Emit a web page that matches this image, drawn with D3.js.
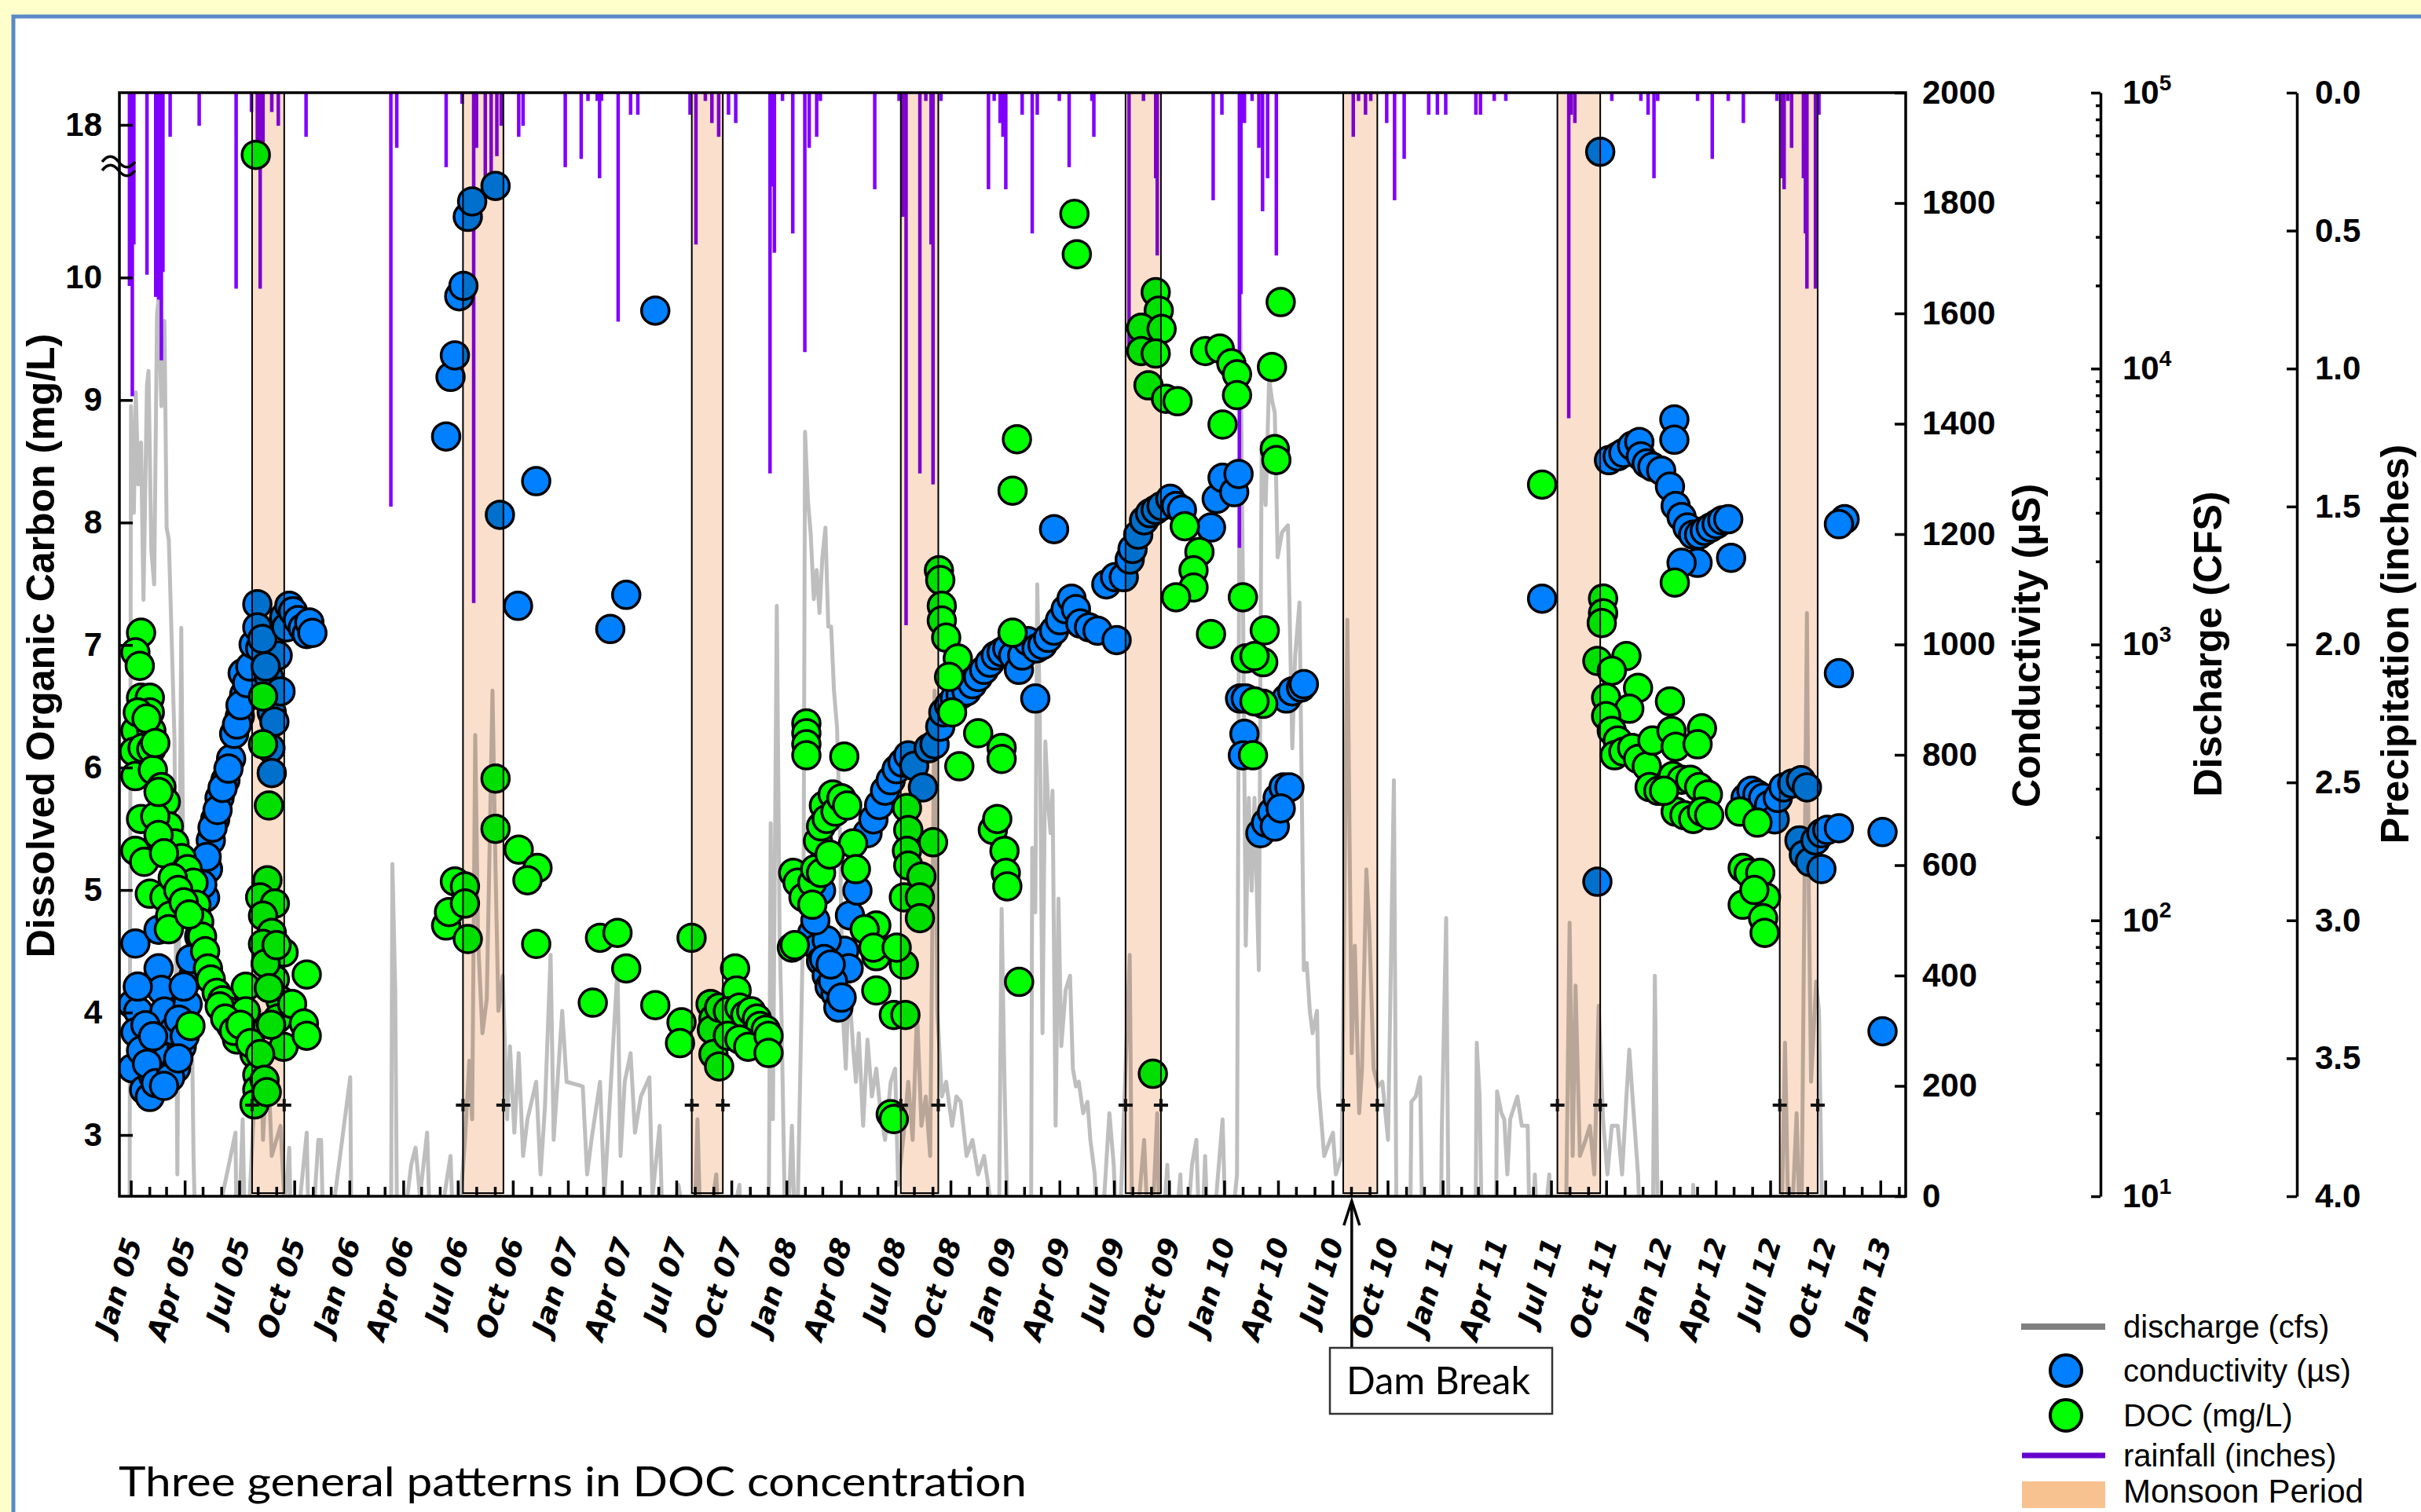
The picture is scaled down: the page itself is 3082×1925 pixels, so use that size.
<!DOCTYPE html>
<meta charset="utf-8">
<script src="https://d3js.org/d3.v7.min.js"></script>
<style>
body { margin: 0; background: #FFFFCC; }
svg { display: block; }
.axis text { font-family: "Liberation Sans", Arial, sans-serif; font-weight: bold; font-size: 42px; fill: #000; }
.axis line, .axis path { stroke: #000; stroke-width: 3.5; }
.title { font-family: "Liberation Sans", Arial, sans-serif; font-weight: bold; font-size: 50px; }
.xlab { font-family: "DejaVu Sans", Verdana, sans-serif; font-weight: bold; font-style: italic; font-size: 36px; }
.leg { font-family: "Liberation Sans", Arial, sans-serif; font-size: 40px; }
</style>
<body></body>
<script>

// decimal year, DOC (mg/L)
var docData = [
  [2005.045,7.10],[2005.019,6.94],[2005.039,6.83],[2005.045,6.57],[2005.085,6.57],[2005.085,6.45],[2005.019,6.30],[2005.092,6.30],
  [2005.012,6.13],[2005.052,6.16],[2005.092,6.15],[2005.019,5.93],[2005.099,5.98],[2005.138,5.84],[2005.158,5.72],[2005.045,5.58],
  [2005.172,5.52],[2005.019,5.32],[2005.059,5.23],[2005.198,5.38],[2005.231,5.26],[2005.258,5.17],[2005.085,4.97],[2005.152,4.94],
  [2005.178,4.79],[2005.172,4.68],[2005.285,5.06],[2005.298,4.88],[2005.311,4.74],[2005.324,4.62],[2005.338,4.50],[2005.351,4.36],
  [2005.364,4.27],[2005.271,3.89],[2005.391,4.16],[2005.417,4.10],[2005.444,4.01],[2005.457,3.89],[2005.484,3.78],[2005.524,4.21],
  [2005.524,4.01],[2005.530,3.84],[2005.564,3.66],[2005.577,3.49],[2005.577,3.37],[2005.564,3.25],
  [2005.110,5.60],[2005.125,5.45],[2005.150,5.30],[2005.190,5.10],[2005.215,5.00],[2005.240,4.90],[2005.265,4.80],[2005.030,6.45],
  [2005.070,6.40],[2005.110,6.20],[2005.125,5.80],[2005.405,4.05],[2005.430,3.95],[2005.470,3.85],[2005.500,3.90],[2005.545,3.75],
  [2005.570,17.35],[2005.603,6.58],[2005.603,6.19],[2005.630,5.69],[2005.623,5.08],[2005.590,4.94],[2005.657,4.89],[2005.603,4.79],
  [2005.643,4.65],[2005.603,4.56],[2005.697,4.49],[2005.657,4.27],[2005.683,4.10],[2005.670,3.95],[2005.697,3.72],[2005.590,3.66],
  [2005.615,4.40],[2005.630,4.20],[2005.640,3.90],[2005.665,4.55],[2005.610,3.45],[2005.620,3.35],
  [2005.803,4.31],[2005.736,4.07],[2005.790,3.91],[2005.803,3.81],
  [2006.441,4.71],[2006.454,4.82],[2006.481,5.07],[2006.527,5.03],[2006.527,4.89],[2006.540,4.60],[2006.667,5.91],[2006.667,5.50],
  [2006.773,5.33],[2006.859,5.18],[2006.813,5.08],[2006.853,4.56],
  [2007.145,4.61],[2007.225,4.65],[2007.265,4.36],[2007.112,4.08],[2007.398,4.06],[2007.518,3.92],[2007.511,3.75],[2007.564,4.61],
  [2007.651,4.07],[2007.664,3.95],[2007.657,3.86],[2007.664,3.66],[2007.690,3.56],[2007.690,4.04],[2007.763,4.36],[2007.770,4.18],
  [2007.730,4.01],[2007.783,4.04],[2007.810,3.98],[2007.837,4.01],[2007.863,3.95],[2007.877,3.89],[2007.903,3.86],[2007.730,3.81],
  [2007.783,3.78],[2007.823,3.72],[2007.916,3.81],[2007.916,3.67],
  [2008.089,6.36],[2008.089,6.28],[2008.089,6.19],[2008.089,6.10],[2008.262,6.09],[2008.023,4.53],[2008.029,5.14],[2008.049,5.06],
  [2008.076,4.94],[2008.116,5.06],[2008.129,5.17],[2008.156,5.14],[2008.116,4.88],[2008.142,5.40],[2008.156,5.52],[2008.169,5.69],
  [2008.182,5.58],[2008.209,5.78],[2008.222,5.64],[2008.249,5.75],[2008.275,5.69],[2008.302,5.38],[2008.315,5.17],[2008.036,4.55],
  [2008.195,5.29],[2008.408,4.71],[2008.408,4.46],[2008.408,4.18],[2008.355,4.68],[2008.488,3.98],[2008.395,4.53],[2008.474,3.17],
  [2008.488,3.13],
  [2008.548,5.67],[2008.554,5.49],[2008.548,5.32],[2008.554,5.20],[2008.534,4.94],[2008.614,5.11],[2008.607,4.94],[2008.607,4.77],
  [2008.534,4.39],[2008.501,4.53],[2008.541,3.98],[2008.667,5.39],
  [2008.694,7.61],[2008.700,7.53],[2008.707,7.32],[2008.707,7.20],[2008.727,7.06],[2008.780,6.89],[2008.740,6.74],[2008.754,6.45],
  [2008.873,6.28],[2008.980,6.16],[2008.980,6.07],[2008.787,6.01],[2008.940,5.49],[2008.960,5.58],[2008.993,5.32],[2008.999,5.14],
  [2009.006,5.03],[2009.050,8.68],[2009.030,8.26],[2009.060,4.25],[2009.030,7.10],
  [2009.313,10.52],[2009.324,10.19],[2009.685,9.88],[2009.699,9.73],[2009.619,9.59],[2009.712,9.58],[2009.619,9.40],[2009.685,9.38],
  [2009.652,9.12],[2009.732,9.01],[2009.785,8.99],[2009.672,3.50],[2009.911,9.40],[2009.978,9.42],[2010.031,9.30],[2010.057,9.21],
  [2010.057,9.04],[2009.991,8.80],[2010.257,9.80],[2010.217,9.27],[2010.230,8.60],[2010.237,8.51],[2009.818,7.97],[2009.885,7.76],
  [2009.858,7.61],[2009.858,7.47],[2009.778,7.39],[2010.084,7.39],[2009.938,7.09],[2010.184,7.12],[2010.097,6.89],[2010.177,6.86],
  [2010.137,6.91],[2010.177,6.52],[2010.137,6.54],[2010.130,6.10],
  [2011.453,8.31],[2011.732,7.38],[2011.732,7.26],[2011.726,7.18],[2011.706,6.87],[2011.839,6.91],[2011.772,6.79],[2011.892,6.65],
  [2011.746,6.57],[2011.852,6.48],[2011.746,6.42],[2011.772,6.30],[2011.799,6.22],[2011.785,6.10],[2011.825,6.13],[2011.865,6.16],
  [2011.892,6.07],[2011.932,6.01],[2011.958,6.22],[2011.945,5.84],[2011.985,5.81],[2012.038,6.54],[2012.045,6.30],[2012.064,6.17],
  [2012.184,6.32],[2012.164,6.19],[2012.051,5.93],[2012.091,5.90],[2012.131,5.90],[2012.171,5.84],[2012.211,5.78],[2012.064,5.64],
  [2012.104,5.61],[2012.144,5.58],[2012.184,5.64],[2012.217,5.61],[2012.011,5.81],[2012.060,7.51],
  [2012.357,5.64],[2012.437,5.55],[2012.370,5.18],[2012.397,5.14],[2012.450,5.14],[2012.476,4.94],[2012.370,4.88],[2012.463,4.77],
  [2012.470,4.65],[2012.423,5.00]
];

// decimal year, conductivity (uS)
var condData = [
  [2005.019,458],[2005.005,348],[2005.032,335],[2005.019,297],[2005.005,232],[2005.045,264],[2005.059,193],[2005.085,180],
  [2005.099,219],[2005.125,413],[2005.138,374],[2005.152,335],[2005.138,284],[2005.165,251],[2005.205,232],[2005.231,271],
  [2005.125,483],[2005.258,348],[2005.285,400],[2005.311,471],[2005.338,541],[2005.351,593],[2005.364,645],[2005.384,683],
  [2005.404,722],[2005.431,754],[2005.457,793],[2005.471,838],[2005.497,870],[2005.517,909],[2005.510,948],
  [2005.072,240],[2005.112,205],[2005.178,215],[2005.192,300],[2005.218,320],[2005.245,290],[2005.030,380],[2005.065,310],
  [2005.100,290],[2005.150,200],[2005.215,250],[2005.240,380],[2005.272,430],[2005.298,510],[2005.325,565],[2005.345,615],
  [2005.372,668],[2005.395,700],[2005.418,740],[2005.445,775],[2005.484,855],[2005.500,890],[2005.530,930],[2005.545,960],
  [2005.560,1000],
  [2005.577,1073],[2005.577,1031],[2005.590,993],[2005.630,941],[2005.643,877],[2005.637,812],[2005.643,767],[2005.670,980],
  [2005.600,1010],[2005.615,960],[2005.655,860],[2005.683,915],
  [2005.700,1050],[2005.710,1031],[2005.723,1070],[2005.740,1060],[2005.763,1044],[2005.785,1030],[2005.803,1019],[2005.815,1040],
  [2005.829,1021],
  [2006.441,1377],[2006.461,1485],[2006.481,1524],[2006.501,1631],[2006.520,1650],[2006.540,1775],[2006.560,1803],[2006.667,1831],
  [2006.687,1235],[2006.770,1070],[2006.853,1296],
  [2007.192,1028],[2007.265,1090],[2007.398,1605],
  [2008.116,477],[2008.142,451],[2008.156,426],[2008.182,400],[2008.195,380],[2008.222,367],[2008.235,342],[2008.262,445],
  [2008.282,413],[2008.182,464],[2008.156,554],[2008.288,509],[2008.322,554],[2008.130,500],[2008.170,430],[2008.210,390],
  [2008.250,360],[2008.200,420],
  [2008.368,658],[2008.395,683],[2008.421,709],[2008.448,735],[2008.474,754],[2008.501,774],[2008.528,786],[2008.554,799],
  [2008.581,780],[2008.621,741],[2008.647,812],[2008.674,819],[2008.700,851],[2008.714,877],[2008.740,890],[2008.767,903],
  [2008.793,909],[2008.820,915],[2008.847,928],[2008.873,941],[2008.900,954],[2008.926,967],[2008.953,980],[2008.980,986],
  [2009.006,993],[2009.033,980],[2009.059,954],
  [2009.074,980],[2009.100,1006],[2009.134,902],[2009.140,993],[2009.167,999],[2009.193,1012],[2009.220,1025],[2009.247,1044],
  [2009.273,1064],[2009.300,1083],[2009.320,1064],[2009.340,1038],[2009.380,1031],[2009.419,1025],[2009.506,1008],[2009.220,1209],
  [2009.459,1109],[2009.499,1122],[2009.539,1122],[2009.566,1154],[2009.579,1173],[2009.605,1199],[2009.632,1225],[2009.659,1238],
  [2009.685,1244],[2009.712,1251],[2009.752,1264],[2009.778,1251],[2009.805,1244],[2009.938,1212],
  [2009.964,1264],[2009.991,1302],[2010.044,1276],[2010.064,1309],[2010.071,902],[2010.097,902],[2010.091,838],[2010.084,799],
  [2010.283,902],[2010.310,915],[2010.350,922],[2010.363,928],[2010.164,658],[2010.190,677],[2010.217,696],[2010.243,722],
  [2010.270,741],[2010.297,741],[2010.230,670],[2010.257,703],
  [2011.453,1083],[2011.719,1893],[2011.706,570],
  [2011.759,1334],[2011.799,1341],[2011.825,1347],[2011.865,1360],[2011.898,1367],[2011.905,1341],[2011.932,1328],[2011.958,1322],
  [2011.998,1315],[2012.058,1408],[2012.058,1371],[2012.038,1286],[2012.064,1251],[2012.091,1231],[2012.118,1212],[2012.144,1199],
  [2012.171,1199],[2012.197,1206],[2012.224,1212],[2012.251,1218],[2012.277,1225],[2012.304,1227],[2012.317,1157],[2012.164,1148],
  [2012.091,1148],
  [2012.383,722],[2012.410,735],[2012.437,728],[2012.463,722],[2012.490,709],[2012.516,683],[2012.530,722],[2012.556,741],
  [2012.596,748],[2012.636,754],[2012.663,741],[2012.629,645],[2012.649,619],[2012.676,606],[2012.702,645],[2012.729,658],
  [2012.756,664],[2012.729,593],[2012.809,667],[2012.835,1227],[2012.809,1218],[2012.809,948],[2013.008,660],[2013.008,299]
];

// decimal year, discharge (cfs); values under 10 fall below the axis
var dischargeData = [
  [2004.950,5],[2004.992,5],[2004.999,7300],[2005.012,3000],[2005.021,8200],[2005.032,3800],[2005.045,5400],[2005.056,1450],
  [2005.072,8700],[2005.079,9800],[2005.092,2200],[2005.105,1650],[2005.118,15800],[2005.125,17700],[2005.138,7300],[2005.152,14900],
  [2005.162,2650],[2005.172,2400],[2005.185,1050],[2005.198,450],[2005.211,12],[2005.221,153],[2005.229,1150],[2005.238,153],
  [2005.251,195],[2005.258,47],[2005.271,114],[2005.285,14],[2005.298,5],[2005.338,5],[2005.477,17],[2005.484,5],
  [2005.510,19],[2005.524,5],[2005.564,23],[2005.590,47],[2005.603,16],[2005.623,35],[2005.643,14],[2005.683,18],
  [2005.703,9],[2005.723,15],[2005.736,5],[2005.803,17],[2005.816,5],[2005.856,16],[2005.869,16],[2005.883,5],
  [2006.002,27],[2006.009,5],[2006.188,5],[2006.195,160],[2006.208,56],[2006.218,5],[2006.281,13],[2006.301,15],
  [2006.321,10],[2006.354,17],[2006.374,5],[2006.461,14],[2006.481,5],[2006.527,16],[2006.547,31],[2006.560,19],
  [2006.574,470],[2006.587,85],[2006.607,39],[2006.627,52],[2006.653,680],[2006.667,153],[2006.680,47],[2006.700,63],
  [2006.720,19],[2006.733,35],[2006.753,17],[2006.773,33],[2006.793,14],[2006.813,19],[2006.853,26],[2006.873,12],
  [2006.893,21],[2006.919,75],[2006.933,16],[2006.972,47],[2006.992,26],
  [2007.066,25],[2007.086,12],[2007.106,16],[2007.145,26],[2007.165,10],[2007.225,67],[2007.239,14],[2007.258,26],
  [2007.285,33],[2007.305,17],[2007.332,23],[2007.371,27],[2007.385,10],[2007.418,18],[2007.438,5],[2007.504,11],
  [2007.571,5],[2007.591,19],[2007.611,5],[2007.677,12],[2007.697,5],[2007.783,11],[2007.797,5],[2007.916,5],
  [2007.926,225],[2007.936,19],[2007.954,1380],[2007.967,85],[2007.976,43],[2007.996,5],[2008.023,18],[2008.043,5],
  [2008.076,114],[2008.083,5900],[2008.096,3350],[2008.109,2500],[2008.123,1460],[2008.136,1860],[2008.149,1300],[2008.162,2070],
  [2008.176,2650],[2008.189,1160],[2008.202,1160],[2008.215,680],[2008.229,500],[2008.242,207],[2008.255,47],[2008.269,29],
  [2008.282,60],[2008.302,35],[2008.315,26],[2008.328,39],[2008.348,18],[2008.368,37],[2008.388,23],[2008.408,29],
  [2008.428,20],[2008.448,16],[2008.474,26],[2008.494,29],[2008.508,11],[2008.534,17],[2008.554,26],[2008.574,16],
  [2008.594,47],[2008.614,18],[2008.634,23],[2008.654,14],[2008.674,680],[2008.687,47],[2008.707,23],[2008.727,26],
  [2008.754,18],[2008.774,23],[2008.793,22],[2008.820,14],[2008.847,16],[2008.873,12],[2008.900,14],[2008.926,10],
  [2008.966,5],[2008.980,110],[2008.993,26],[2009.013,5],
  [2009.114,5],[2009.120,183],[2009.134,107],[2009.143,1650],[2009.154,600],[2009.167,39],[2009.180,445],[2009.193,262],
  [2009.204,207],[2009.213,295],[2009.227,18],[2009.240,120],[2009.253,35],[2009.273,56],[2009.293,63],[2009.306,29],
  [2009.320,25],[2009.333,26],[2009.353,20],[2009.373,22],[2009.386,16],[2009.406,12],[2009.426,5],[2009.473,20],
  [2009.493,13],[2009.512,5],[2009.566,75],[2009.579,5],[2009.632,16],[2009.659,5],[2009.692,20],[2009.705,5],
  [2009.738,13],[2009.758,5],[2009.798,12],[2009.811,5],[2009.851,13],[2009.871,16],[2009.891,5],[2009.911,14],
  [2009.931,5],[2009.991,19],[2010.011,5],[2010.057,12],[2010.071,18600],[2010.084,1650],[2010.097,81],[2010.111,278],
  [2010.124,128],[2010.137,278],[2010.157,66],[2010.170,5400],[2010.188,3200],[2010.204,9200],[2010.217,7700],[2010.230,6900],
  [2010.243,2070],[2010.263,2550],[2010.290,2700],[2010.310,420],[2010.323,910],[2010.343,1420],[2010.363,66],[2010.376,70],
  [2010.390,47],[2010.403,39],[2010.423,47],[2010.430,25],[2010.456,14],[2010.483,16],[2010.496,17],[2010.509,12],
  [2010.536,14],[2010.562,1230],[2010.582,33],[2010.596,81],[2010.616,20],[2010.629,29],[2010.649,153],[2010.662,96],
  [2010.682,29],[2010.702,25],[2010.722,26],[2010.748,16],[2010.775,322],[2010.788,5],[2010.848,5],[2010.855,22],
  [2010.875,23],[2010.895,27],[2010.908,5],[2010.988,5],[2010.994,17],[2011.014,102],[2011.027,5],
  [2011.147,5],[2011.154,36],[2011.167,23],[2011.181,5],[2011.240,5],[2011.247,24],[2011.267,20],[2011.280,19],
  [2011.294,12],[2011.307,19],[2011.340,23],[2011.360,18],[2011.387,18],[2011.400,5],[2011.420,12],[2011.440,5],
  [2011.486,12],[2011.500,5],[2011.559,5],[2011.579,98],[2011.593,14],[2011.606,58],[2011.626,14],[2011.652,16],
  [2011.672,18],[2011.692,12],[2011.712,49],[2011.732,19],[2011.752,12],[2011.772,18],[2011.799,18],[2011.819,12],
  [2011.839,23],[2011.852,34],[2011.872,20],[2011.892,12],[2011.912,5],[2011.958,5],[2011.969,63],[2011.985,5],
  [2012.138,5],[2012.144,11],[2012.157,5],[2012.543,5],[2012.563,36],[2012.583,5],[2012.616,20],[2012.636,5],
  [2012.663,1300],[2012.672,115],[2012.682,26],[2012.705,60],[2012.718,47],[2012.736,5],[2013.100,5]
];

// decimal year, rainfall (inches)
var rainData = [
  [2004.992,0.70],[2004.999,0.40],[2005.005,1.10],[2005.012,0.55],[2005.072,0.66],[2005.112,0.74],[2005.125,0.75],[2005.138,0.97],
  [2005.145,0.65],[2005.178,0.16],[2005.311,0.12],[2005.480,0.71],[2005.550,0.07],[2005.577,0.20],[2005.590,0.71],[2005.603,0.24],
  [2005.643,0.07],[2005.673,0.12],[2005.800,0.16],[2006.188,1.50],[2006.215,0.20],[2006.441,0.27],[2006.514,0.04],[2006.567,1.85],
  [2006.580,0.20],[2006.620,0.31],[2006.647,0.35],[2006.673,0.23],[2006.693,0.12],[2006.773,0.16],[2006.793,0.12],[2006.986,0.27],
  [2007.059,0.24],[2007.090,0.03],[2007.132,0.03],[2007.143,0.31],[2007.152,0.03],[2007.228,0.83],[2007.285,0.08],[2007.318,0.08],
  [2007.557,0.08],[2007.584,0.55],[2007.627,0.03],[2007.657,0.11],[2007.688,0.16],[2007.733,0.08],[2007.766,0.11],[2007.923,1.38],
  [2007.932,0.34],[2007.943,0.58],[2007.980,0.03],[2008.027,0.51],[2008.082,0.94],[2008.102,0.20],[2008.136,0.16],[2008.153,0.03],
  [2008.401,0.35],[2008.512,0.03],[2008.530,0.45],[2008.544,1.93],[2008.607,1.38],[2008.634,0.03],[2008.658,0.55],[2008.667,1.42],
  [2008.703,0.03],[2008.920,0.35],[2008.946,0.03],[2008.973,0.11],[2008.986,0.16],[2008.999,0.35],
  [2009.074,0.08],[2009.120,0.51],[2009.143,0.08],[2009.244,0.03],[2009.289,0.27],[2009.393,0.03],[2009.402,0.16],[2009.563,0.94],
  [2009.629,0.03],[2009.685,0.31],[2009.692,0.59],[2009.948,0.39],[2009.988,0.08],[2010.068,1.65],[2010.075,0.73],[2010.091,0.11],
  [2010.126,0.03],[2010.157,0.20],[2010.174,0.43],[2010.197,0.31],[2010.237,0.59],[2010.589,0.16],[2010.613,0.03],[2010.645,0.08],
  [2010.669,0.03],[2010.742,0.11],[2010.778,0.39],[2010.822,0.24],[2010.934,0.08],[2010.974,0.08],[2011.012,0.08],
  [2011.150,0.08],[2011.171,0.08],[2011.234,0.03],[2011.287,0.03],[2011.575,1.18],[2011.586,0.08],[2011.603,0.11],[2011.772,0.03],
  [2011.905,0.03],[2011.938,0.08],[2011.965,0.31],[2011.982,0.03],[2012.164,0.03],[2012.231,0.24],[2012.304,0.03],[2012.373,0.11],
  [2012.526,0.03],[2012.550,0.31],[2012.559,0.35],[2012.576,0.03],[2012.593,0.20],[2012.647,0.31],[2012.656,0.51],[2012.663,0.71],
  [2012.702,0.71],[2012.718,0.08]
];

// monsoon periods, start and end as decimal years
var monsoonPeriods = [
  [2005.553,2005.700],[2006.518,2006.703],[2007.565,2007.707],[2008.520,2008.691],
  [2009.547,2009.709],[2010.543,2010.699],[2011.523,2011.719],[2012.539,2012.712]
];
var damBreak = 2010.582;

var docTicks = [3,4,5,6,7,8,9,10,18];
var condTicks = [0,200,400,600,800,1000,1200,1400,1600,1800,2000];
var dischargeTicks = [10,100,1000,10000,100000];
var rainTicks = [0,0.5,1,1.5,2,2.5,3,3.5,4];

var width = 3082, height = 1925;
var L = 152, R = 2426, T = 118, B = 1523;

function toDate(y) {
  var yr = Math.floor(y);
  var a = Date.UTC(yr, 0, 1), b = Date.UTC(yr + 1, 0, 1);
  return new Date(a + (y - yr) * (b - a));
}

var svg = d3.select("body").append("svg")
  .attr("width", width)
  .attr("height", height);

svg.append("rect").attr("width", width).attr("height", height).attr("fill", "#FFFFCC");
svg.append("rect")
  .attr("x", 17).attr("y", 21).attr("width", 3100).attr("height", 2000)
  .attr("fill", "#fff").attr("stroke", "#5A89C6").attr("stroke-width", 5);

var x = d3.scaleUtc().domain([toDate(2004.946), toDate(2013.114)]).range([L, R]);
var yDoc = d3.scaleLinear().domain([2.5, 10.9, 17.2, 18]).range([B, 213, 206, 159]);
var yCond = d3.scaleLinear().domain([0, 2000]).range([B, T]);
var yQ = d3.scaleLog().domain([10, 100000]).range([B, T]);
var yRain = d3.scaleLinear().domain([0, 4]).range([T, B]);

svg.append("clipPath").attr("id", "plotclip")
  .append("rect").attr("x", L).attr("y", T).attr("width", R - L).attr("height", B - T);

var plot = svg.append("g").attr("clip-path", "url(#plotclip)");

// discharge
var qLine = d3.line()
  .x(function(d) { return x(toDate(d[0])); })
  .y(function(d) { return yQ(d[1]); });

plot.append("path")
  .datum(dischargeData)
  .attr("d", qLine)
  .attr("fill", "none")
  .attr("stroke", "#BEBEBE")
  .attr("stroke-width", 5)
  .attr("stroke-linejoin", "round");

// rainfall bars hanging from the top
plot.selectAll(".rain")
  .data(rainData).enter().append("line")
  .attr("class", "rain")
  .attr("x1", function(d) { return x(toDate(d[0])); })
  .attr("x2", function(d) { return x(toDate(d[0])); })
  .attr("y1", yRain(0))
  .attr("y2", function(d) { return yRain(d[1]); })
  .attr("stroke", "#8000FF")
  .attr("stroke-width", 4.5);

// conductivity and DOC points
plot.selectAll(".cond")
  .data(condData).enter().append("circle")
  .attr("class", "cond")
  .attr("cx", function(d) { return x(toDate(d[0])); })
  .attr("cy", function(d) { return yCond(d[1]); })
  .attr("r", 17.5)
  .attr("fill", "#0080FF")
  .attr("stroke", "#000")
  .attr("stroke-width", 3.5);

plot.selectAll(".doc")
  .data(docData).enter().append("circle")
  .attr("class", "doc")
  .attr("cx", function(d) { return x(toDate(d[0])); })
  .attr("cy", function(d) { return yDoc(d[1]); })
  .attr("r", 17.5)
  .attr("fill", "#00FF00")
  .attr("stroke", "#000")
  .attr("stroke-width", 3.5);

// monsoon bands over everything
plot.selectAll(".band")
  .data(monsoonPeriods).enter().append("rect")
  .attr("class", "band")
  .attr("x", function(d) { return x(toDate(d[0])); })
  .attr("width", function(d) { return x(toDate(d[1])) - x(toDate(d[0])); })
  .attr("y", T).attr("height", B - T)
  .attr("fill", "#F9DFCC")
  .style("mix-blend-mode", "multiply");

plot.selectAll(".bandline")
  .data(monsoonPeriods).enter().append("rect")
  .attr("class", "bandline")
  .attr("x", function(d) { return x(toDate(d[0])); })
  .attr("width", function(d) { return x(toDate(d[1])) - x(toDate(d[0])); })
  .attr("y", T).attr("height", B - T - 4)
  .attr("fill", "none")
  .attr("stroke", "#000")
  .attr("stroke-width", 2);

// small + marks at the band edges
var edges = [];
monsoonPeriods.forEach(function(d) { edges.push(d[0], d[1]); });
plot.selectAll(".plus")
  .data(edges).enter().append("path")
  .attr("class", "plus")
  .attr("transform", function(d) { return "translate(" + x(toDate(d)) + "," + yDoc(3.244) + ")"; })
  .attr("d", "M-9,0H9M0,-8V8")
  .attr("stroke", "#111")
  .attr("stroke-width", 4);

// frame
svg.append("rect")
  .attr("x", L).attr("y", T).attr("width", R - L).attr("height", B - T)
  .attr("fill", "none").attr("stroke", "#000").attr("stroke-width", 3.5);

// x axis: monthly ticks pointing in, quarterly longer
var months = d3.utcMonth.range(x.domain()[0], x.domain()[1]);
var xg = svg.append("g").attr("class", "axis");
xg.selectAll("line")
  .data(months).enter().append("line")
  .attr("x1", function(d) { return x(d); })
  .attr("x2", function(d) { return x(d); })
  .attr("y1", B)
  .attr("y2", function(d) { return d.getUTCMonth() % 3 === 0 ? B - 20 : B - 12; });

var fmt = d3.utcFormat("%b %y");
svg.selectAll(".xlab")
  .data(months.filter(function(d) { return d.getUTCMonth() % 3 === 0; }))
  .enter().append("text")
  .attr("class", "xlab")
  .attr("text-anchor", "end")
  .attr("dy", "0.35em")
  .attr("transform", function(d) { return "translate(" + (x(d) + 2) + "," + (B + 54) + ") rotate(-73)"; })
  .text(function(d) { return fmt(d); });

// left DOC axis
svg.append("g").attr("class", "axis")
  .attr("transform", "translate(" + L + ",0)")
  .call(d3.axisLeft(yDoc).tickValues(docTicks).tickSizeInner(-17).tickSizeOuter(0).tickPadding(22).tickFormat(d3.format("d")))
  .call(function(g) { g.select(".domain").remove(); });

// axis break
[0, 11].forEach(function(o) {
  svg.append("path")
    .attr("d", "M130," + (206 + o) + " c7,-9 14,-9 21,0 s14,9 21,0")
    .attr("fill", "none").attr("stroke", "#000").attr("stroke-width", 3.5);
});

// conductivity axis
svg.append("g").attr("class", "axis")
  .attr("transform", "translate(" + R + ",0)")
  .call(d3.axisRight(yCond).tickValues(condTicks).tickSizeInner(-14).tickSizeOuter(0).tickPadding(21).tickFormat(d3.format("d")))
  .call(function(g) { g.select(".domain").remove(); });

// discharge axis (log)
var qx = 2674;
var minor = [];
[10, 100, 1000, 10000].forEach(function(p) { for (var k = 2; k < 10; k++) minor.push(p * k); });
svg.append("g").attr("class", "axis")
  .attr("transform", "translate(" + qx + ",0)")
  .call(d3.axisRight(yQ).tickValues(minor).tickSizeInner(-6).tickSizeOuter(0).tickFormat(""))
  .call(function(g) { g.select(".domain").remove(); });

var qAxis = svg.append("g").attr("class", "axis")
  .attr("transform", "translate(" + qx + ",0)")
  .call(d3.axisRight(yQ).tickValues(dischargeTicks).tickSizeInner(-12).tickSizeOuter(0).tickPadding(28).tickFormat(""));
qAxis.selectAll(".tick text").each(function(d) {
  var t = d3.select(this);
  t.append("tspan").text("10");
  t.append("tspan").attr("dy", "-0.62em").style("font-size", "28px").text(Math.round(Math.log10(d)));
});

// precipitation axis
svg.append("g").attr("class", "axis")
  .attr("transform", "translate(2924,0)")
  .call(d3.axisRight(yRain).tickValues(rainTicks).tickSizeInner(-13).tickSizeOuter(0).tickPadding(23).tickFormat(d3.format(".1f")));

// axis titles
function vtitle(tx, ty, s) {
  svg.append("text").attr("class", "title")
    .attr("text-anchor", "middle")
    .attr("transform", "translate(" + tx + "," + ty + ") rotate(-90)")
    .text(s);
}
vtitle(69, 822, "Dissolved Organic Carbon (mg/L)");
vtitle(2597, 822, "Conductivity (\u00b5S)");
vtitle(2828, 820, "Discharge (CFS)");
vtitle(3066, 820, "Precipitation (inches)");

// dam break note
var dx = x(toDate(damBreak));
svg.append("line").attr("x1", dx).attr("x2", dx).attr("y1", 1716).attr("y2", 1529)
  .attr("stroke", "#000").attr("stroke-width", 3.5);
svg.append("path").attr("d", "M" + (dx - 10) + ",1560 L" + dx + ",1529 L" + (dx + 10) + ",1560")
  .attr("fill", "none").attr("stroke", "#000").attr("stroke-width", 3.5);
svg.append("rect").attr("x", 1693).attr("y", 1716).attr("width", 283).attr("height", 84)
  .attr("fill", "#fff").attr("stroke", "#333").attr("stroke-width", 2.5);
svg.append("text").attr("x", 1714).attr("y", 1775)
  .attr("font-family", "Lato, 'Open Sans', sans-serif").attr("font-size", 48)
  .attr("textLength", 234).attr("lengthAdjust", "spacingAndGlyphs")
  .text("Dam Break");

svg.append("text").attr("x", 151).attr("y", 1905)
  .attr("font-family", "Lato, 'Open Sans', sans-serif").attr("font-size", 52)
  .attr("textLength", 1156).attr("lengthAdjust", "spacingAndGlyphs")
  .text("Three general patterns in DOC concentration");

// legend
var lg = svg.append("g");
lg.append("line").attr("x1", 2573).attr("x2", 2680).attr("y1", 1689).attr("y2", 1689)
  .attr("stroke", "#808080").attr("stroke-width", 8);
lg.append("circle").attr("cx", 2630).attr("cy", 1745).attr("r", 20)
  .attr("fill", "#0080FF").attr("stroke", "#000").attr("stroke-width", 4);
lg.append("circle").attr("cx", 2630).attr("cy", 1802).attr("r", 20)
  .attr("fill", "#00FF00").attr("stroke", "#000").attr("stroke-width", 4);
lg.append("line").attr("x1", 2574).attr("x2", 2680).attr("y1", 1853).attr("y2", 1853)
  .attr("stroke", "#6600CC").attr("stroke-width", 7);
lg.append("rect").attr("x", 2574).attr("y", 1886).attr("width", 106).attr("height", 34)
  .attr("fill", "#F8C290");

var legText = [["discharge (cfs)", 1689, 40], ["conductivity (\u00b5s)", 1745, 40], ["DOC (mg/L)", 1802, 40],
               ["rainfall (inches)", 1853, 40], ["Monsoon Period", 1898, 42]];
lg.selectAll(".leg")
  .data(legText).enter().append("text")
  .attr("class", "leg")
  .attr("x", 2703)
  .attr("y", function(d) { return d[1]; })
  .attr("dy", "0.36em")
  .style("font-size", function(d) { return d[2] + "px"; })
  .text(function(d) { return d[0]; });

</script>
